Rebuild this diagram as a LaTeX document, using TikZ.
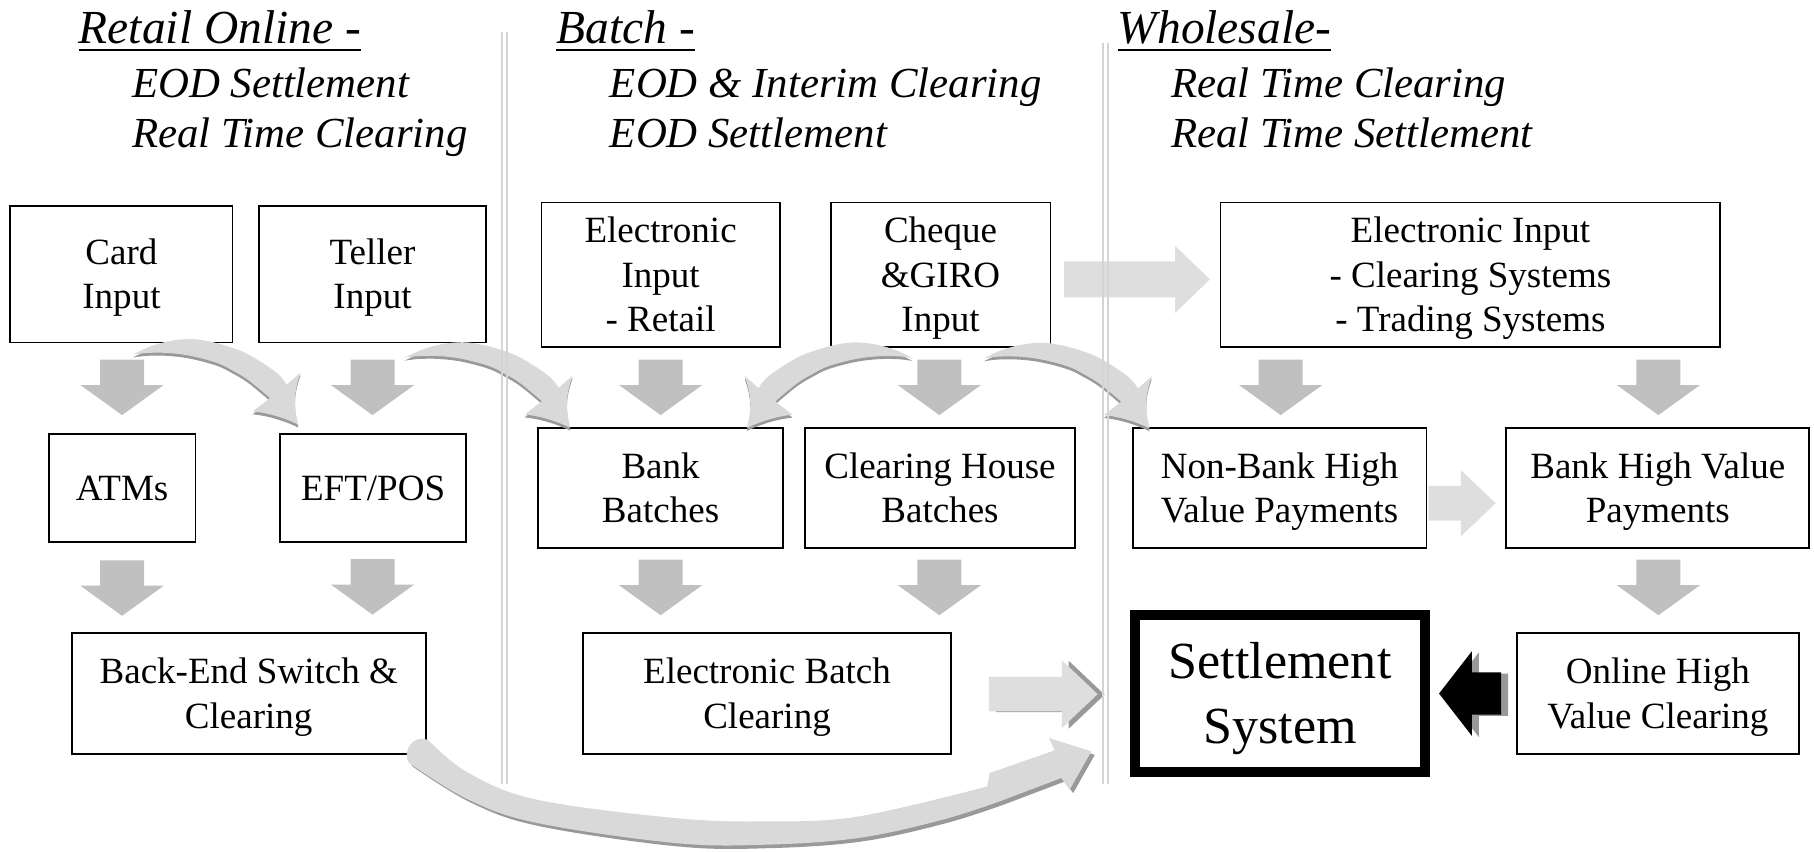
\documentclass[tikz,border=0pt]{standalone}
\usepackage{fontspec}
\setmainfont{Liberation Serif}
\usetikzlibrary{calc}
\definecolor{dngray}{HTML}{C0C0C0}
\definecolor{ltgray}{HTML}{DEDEDE}
\definecolor{cvgray}{HTML}{D9D9D9}
\definecolor{shgray}{HTML}{999999}
\definecolor{sepgray}{HTML}{D4D4D4}
\newcommand{\cvarrow}[1]{%
  \fill[#1] (0,0) -- plot[smooth, tension=0.6] coordinates {(0,0) (14.9,-7) (32.2,-11.8) (50,-13.5) (66.8,-11.4) (85,-6.3) (101.3,0.5) (124.3,15.5) (133.1,26)}
    -- (145.2,15.3) .. controls (139,32) and (139,45) .. (143.2,60.5)
    .. controls (130,54) and (115,50) .. (103.7,49) -- (118.7,37.5)
    -- plot[smooth, tension=0.6] coordinates {(118.7,37.5) (100,22) (86,13.5) (72.6,7) (50,1) (30,-1.5) (12,-1.5) (0,0)} -- cycle;}
\begin{document}
\begin{tikzpicture}[x=1pt,y=-1pt,
  box/.style={draw=black, line width=1.6pt, fill=white, align=center, inner sep=0pt,
    font=\fontsize{32}{38.5}\selectfont, text depth=7pt},
  one/.style={text height=28.5pt},
  two/.style={text height=67pt},
  three/.style={text height=105.5pt},
  titletext/.style={anchor=base west, inner sep=0pt, font=\fontsize{41}{41}\selectfont\itshape},
  subtext/.style={anchor=base west, inner sep=0pt, font=\fontsize{37}{37}\selectfont\itshape},
  uline/.style={line width=2pt},
  sep/.style={draw=sepgray, line width=1.8pt},
  dnarrow/.pic={\fill[dngray] (-19,0) -- (19,0) -- (19,22) -- (36,22) -- (0,48) -- (-36,22) -- (-19,22) -- cycle;}
]
\useasboundingbox (0,0) rectangle (1568,736);

% headings
\node[titletext] (t1) at (68,37.5) {Retail Online -};
\node[subtext] (s11) at (114,84) {EOD Settlement};
\node[subtext] (s12) at (114,127.5) {Real Time Clearing};
\node[titletext] (t2) at (481,37.5) {Batch -};
\node[subtext] (s21) at (527,84) {EOD \& Interim Clearing};
\node[subtext] (s22) at (527,127.5) {EOD Settlement};
\node[titletext] (t3) at (966,37.5) {Wholesale-};
\node[subtext] (s31) at (1012,84) {Real Time Clearing};
\node[subtext] (s32) at (1012,127.5) {Real Time Settlement};
\foreach \t in {t1,t2,t3}{
  \draw[uline] ([yshift=-5.5pt]\t.base west) -- ([yshift=-5.5pt]\t.base east);
}

% boxes
\node[box, two, minimum width=192pt, minimum height=118pt] (card) at (105,237) {Card\\Input};
\node[box, two, minimum width=196pt, minimum height=118pt] (teller) at (322,237) {Teller\\Input};
\node[box, three, minimum width=206pt, minimum height=125pt] (elec) at (571,237.5) {Electronic\\Input\\- Retail};
\node[box, three, minimum width=190pt, minimum height=125pt] (cheque) at (813,237.5) {Cheque\\\&GIRO\\Input};
\node[box, three, minimum width=432pt, minimum height=125pt] (wel) at (1271,237.5) {Electronic Input\\- Clearing Systems\\- Trading Systems};
\node[box, one, minimum width=127pt, minimum height=93pt] (atm) at (105.5,422) {ATMs};
\node[box, one, minimum width=161pt, minimum height=93pt] (eft) at (322.5,422) {EFT/POS};
\node[box, two, minimum width=212pt, minimum height=104pt] (bank) at (571,422) {Bank\\Batches};
\node[box, two, minimum width=233pt, minimum height=104pt] (chb) at (812.5,422) {Clearing House\\Batches};
\node[box, two, minimum width=254pt, minimum height=104pt] (nonbank) at (1106,422) {Non-Bank High\\Value Payments};
\node[box, two, minimum width=262pt, minimum height=104pt] (bhv) at (1433,422) {Bank High Value\\Payments};
\node[box, two, minimum width=306pt, minimum height=105pt] (backend) at (215,599.5) {Back-End Switch \&\\Clearing};
\node[box, two, minimum width=318pt, minimum height=105pt] (ebc) at (663,599.5) {Electronic Batch\\Clearing};
\node[box, line width=8.6pt, minimum width=250.4pt, minimum height=136.4pt,
  font=\fontsize{45}{56}\selectfont, text height=96pt, text depth=9.9pt] (settle) at (1106.5,599.5) {Settlement\\System};
\node[box, two, minimum width=244pt, minimum height=105pt] (ohv) at (1433,599.5) {Online High\\Value Clearing};

% straight down arrows
\pic at ($(card.south)+(0.5,14)$) {dnarrow};
\pic at ($(teller.south)+(0,14)$) {dnarrow};
\pic at ($(elec.south)+(0,10)$) {dnarrow};
\pic at ($(cheque.south)+(-1,10)$) {dnarrow};
\pic at ($(wel.south -| nonbank.north)+(1,10)$) {dnarrow};
\pic at ($(wel.south -| bhv.north)+(0.5,10)$) {dnarrow};
\pic at ($(atm.south)+(0,15)$) {dnarrow};
\pic at ($(eft.south)+(-0.5,14)$) {dnarrow};
\pic at ($(bank.south)+(0,9)$) {dnarrow};
\pic at ($(chb.south)+(-0.5,9)$) {dnarrow};
\pic at ($(bhv.south)+(0.5,9)$) {dnarrow};

% light horizontal arrows
\begin{scope}[shift={(cheque.east)}]
  \fill[ltgray] (11,-11.5) -- (107,-11.5) -- (107,-25) -- (137,4) -- (107,33) -- (107,19.5) -- (11,19.5) -- cycle;
\end{scope}
\begin{scope}[shift={(nonbank.east)}]
  \fill[ltgray] (1,-2) -- (29,-2) -- (29,-15.5) -- (59,13) -- (29,41.5) -- (29,28) -- (1,28) -- cycle;
\end{scope}
\begin{scope}[shift={(ebc.east)}]
  \fill[shgray, xshift=6pt, yshift=-0.5pt] (32,-14.5) -- (95,-14.5) -- (95,-28.8) -- (126,0.5) -- (95,29.8) -- (95,15.5) -- (32,15.5) -- cycle;
  \fill[ltgray] (32,-14.5) -- (95,-14.5) -- (95,-28.8) -- (126,0.5) -- (95,29.8) -- (95,15.5) -- (32,15.5) -- cycle;
\end{scope}

% black arrow from online clearing to settlement
\begin{scope}[shift={(ohv.west)}]
  \fill[shgray, xshift=6pt, yshift=-1pt] (-66.3,0) -- (-38,-36.5) -- (-38,-18.3) -- (-12.7,-18.3) -- (-12.7,18.3) -- (-38,18.3) -- (-38,36.5) -- cycle;
  \fill[black] (-66.3,0) -- (-38,-36.5) -- (-38,-18.3) -- (-12.7,-18.3) -- (-12.7,18.3) -- (-38,18.3) -- (-38,36.5) -- cycle;
\end{scope}

% curved arrows
\begin{scope}[shift={($(card.south)+(9.7,9.8)$)}]
  \begin{scope}[yshift=-2.5pt]\cvarrow{shgray}\end{scope}
  \cvarrow{cvgray}
\end{scope}
\begin{scope}[shift={($(teller.south)+(27.8,12.5)$)}]
  \begin{scope}[yshift=-2.5pt]\cvarrow{shgray}\end{scope}
  \cvarrow{cvgray}
\end{scope}
\begin{scope}[shift={($(cheque.south)+(-24.2,8.7)$)}, xscale=-1]
  \begin{scope}[yshift=-2.5pt]\cvarrow{shgray}\end{scope}
  \cvarrow{cvgray}
\end{scope}
\begin{scope}[shift={($(cheque.south)+(37.5,9)$)}]
  \begin{scope}[yshift=-2.5pt]\cvarrow{shgray}\end{scope}
  \cvarrow{cvgray}
\end{scope}

% big bottom curved arrow from back-end to settlement
\begin{scope}[shift={(backend.south east)}]
  \foreach \c/\dx/\dy in {shgray/3/-3, cvgray/0/0}{
    \fill[\c, xshift=\dx pt, yshift=\dy pt] (0.5,-13.4)
      -- plot[smooth, tension=0.6] coordinates {(0.5,-13.4) (36.3,15.4) (95.7,38.5) (214.8,54.3) (294.2,57.2) (373.5,52.9) (484.6,27)}
      -- (486.6,15.4) -- (542.8,-4.2) -- (537.9,-14.9) -- (574.5,-3.3) -- (555.8,29.8) -- (548.6,19.7) -- (495.3,39.9)
      -- plot[smooth, tension=0.6] coordinates {(495.3,39.9) (445,56) (373.5,71.5) (294.2,77.3) (214.8,75.9) (95.7,58.6) (36.3,38.5) (-15.3,6.7)}
      .. controls (-22,-5) and (-10,-18) .. (0.5,-13.4) -- cycle;
  }
\end{scope}

% separators
\draw[sep] (434,28) -- (434,678);
\draw[sep] (438.5,28) -- (438.5,678);
\draw[sep] (953.2,37) -- (953.2,678);
\draw[sep] (957.5,37) -- (957.5,678);
\end{tikzpicture}
\end{document}
